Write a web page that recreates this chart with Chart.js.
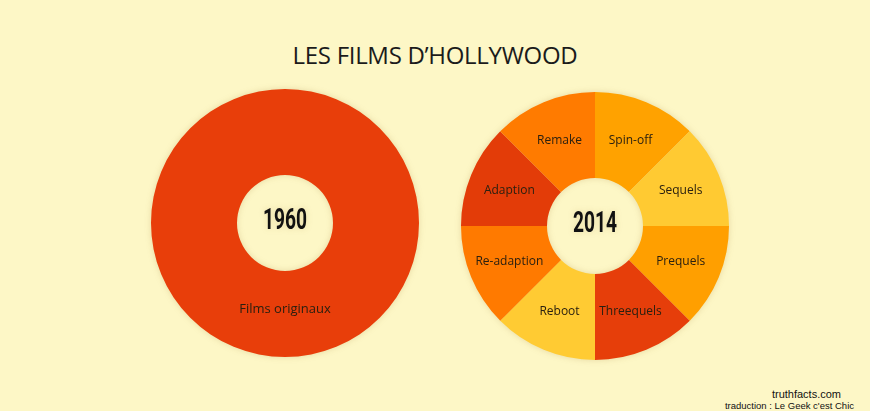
<!DOCTYPE html>
<html>
<head>
<meta charset="utf-8">
<script src="https://cdn.jsdelivr.net/npm/chart.js@4"></script>
<style>
  body { margin: 0; background: #fdf7c6; width: 870px; height: 411px; position: relative; overflow: hidden; }
  #title { position: absolute; left: 0; width: 870px; top: 38px; text-align: center; font-family: "Open Sans", sans-serif; font-size: 24px; color: #1b1b1b; letter-spacing: -0.3px; }
  .wrap { position: absolute; width: 268px; height: 268px; filter: drop-shadow(0 0 3px rgba(120, 80, 0, 0.18)); }
  #w1960 { left: 151px; top: 89px; }
  #w2014 { left: 461px; top: 92px; }
  #credit1 { position: absolute; right: 29px; top: 388px; font-family: "Liberation Sans", Arial, sans-serif; font-size: 11px; color: #111; }
  #credit2 { position: absolute; right: 16px; top: 400px; font-family: "Liberation Sans", Arial, sans-serif; font-size: 9.5px; color: #111; }
</style>
</head>
<body>
<div id="title">LES FILMS D’HOLLYWOOD</div>
<div class="wrap" id="w1960"><canvas id="chart1960" width="268" height="268"></canvas></div>
<div class="wrap" id="w2014"><canvas id="chart2014" width="268" height="268"></canvas></div>
<div id="credit1">truthfacts.com</div>
<div id="credit2">traduction : Le Geek c'est Chic</div>
<script>
const labels1960 = ["Films originaux"];
const values1960 = [1];
const colors1960 = ["#e83e0a"];

const labels2014 = ["Spin-off", "Sequels", "Prequels", "Threequels", "Reboot", "Re-adaption", "Adaption", "Remake"];
const values2014 = [1, 1, 1, 1, 1, 1, 1, 1];
const colors2014 = ["#ffa200", "#ffca32", "#ff9f00", "#e63e0a", "#ffcb33", "#ff7a00", "#e33c08", "#ff7b00"];

// write the label of each slice and the year in the hole
const sliceLabels = {
    id: "sliceLabels",
    afterDatasetsDraw(chart, args, opts) {
        const ctx = chart.ctx;
        const meta = chart.getDatasetMeta(0);
        const names = chart.data.labels;
        ctx.save();
        ctx.textAlign = "center";
        ctx.textBaseline = "middle";
        ctx.fillStyle = "#2a2010";
        ctx.font = opts.labelFont;
        meta.data.forEach((arc, i) => {
            const p = arc.getProps(["x", "y", "startAngle", "endAngle", "innerRadius", "outerRadius"], true);
            const mid = (p.startAngle + p.endAngle) / 2;
            const r = p.innerRadius + (p.outerRadius - p.innerRadius) * opts.labelPos;
            ctx.fillText(names[i], p.x + Math.cos(mid) * r, p.y + Math.sin(mid) * r);
        });
        const a = meta.data[0];
        ctx.fillStyle = "#111";
        ctx.font = "bold 24px Roboto, 'DejaVu Sans', sans-serif";
        ctx.translate(a.x, a.y - 1);
        ctx.scale(0.8, 1.2);
        ctx.fillText(opts.year, 0, 0);
        ctx.restore();
    }
};

function makeDonut(id, labels, values, colors, year, labelPos, labelFont) {
    return new Chart(document.getElementById(id), {
        type: "doughnut",
        data: {
            labels: labels,
            datasets: [{
                data: values,
                backgroundColor: colors,
                borderWidth: 0
            }]
        },
        options: {
            responsive: false,
            animation: false,
            cutout: 48,
            layout: { padding: 0 },
            plugins: {
                legend: { display: false },
                tooltip: { enabled: false },
                sliceLabels: { year: year, labelPos: labelPos, labelFont: labelFont }
            }
        },
        plugins: [sliceLabels]
    });
}

makeDonut("chart1960", labels1960, values1960, colors1960, "1960", 0.45, "13px 'Open Sans', sans-serif");
makeDonut("chart2014", labels2014, values2014, colors2014, "2014", 0.52, "12px 'Open Sans', sans-serif");
</script>
</body>
</html>
